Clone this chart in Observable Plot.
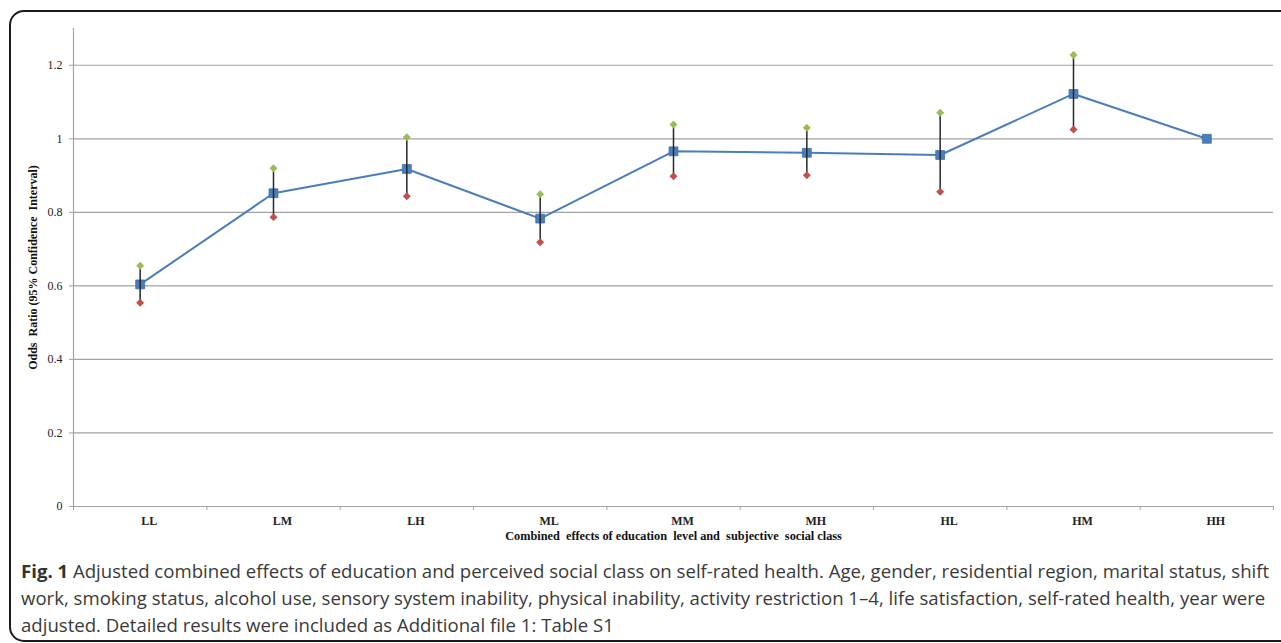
<!DOCTYPE html>
<html><head><meta charset="utf-8">
<script src="https://cdn.jsdelivr.net/npm/d3@7"></script>
<script src="https://cdn.jsdelivr.net/npm/@observablehq/plot@0.6"></script>
<style>
body{margin:0;background:#fff;width:1281px;height:643px;overflow:hidden;position:relative}
#frame{position:absolute;left:9px;top:10px;width:1300px;height:628px;border:2px solid #1c1c1c;border-radius:15px;}
#chart{position:absolute;left:0;top:0}
#caption{position:absolute;left:21px;top:557px;font-family:"Open Sans",sans-serif;font-size:18.6px;line-height:27px;color:#3a3a3a;white-space:nowrap}
#caption b{color:#333}
</style></head><body>
<div id="frame"></div>
<div id="chart"></div>
<div id="caption"></div>
<script>
const categories = ["LL","LM","LH","ML","MM","MH","HL","HM","HH"];
const oddsRatio  = [0.604, 0.852, 0.918, 0.783, 0.966, 0.962, 0.956, 1.122, 1.0];
const upperCI    = [0.655, 0.920, 1.004, 0.849, 1.039, 1.030, 1.071, 1.228, null];
const lowerCI    = [0.554, 0.787, 0.844, 0.719, 0.898, 0.901, 0.856, 1.025, null];
const yTicks = [0, 0.2, 0.4, 0.6, 0.8, 1, 1.2];
const yLabel = "Odds  Ratio (95% Confidence  Interval)";
const xLabel = "Combined  effects of education  level and  subjective  social class";
const captionBold = "Fig. 1";
const captionLines = [
  " Adjusted combined effects of education and perceived social class on self-rated health. Age, gender, residential region, marital status, shift",
  "work, smoking status, alcohol use, sensory system inability, physical inability, activity restriction 1\u20134, life satisfaction, self-rated health, year were",
  "adjusted. Detailed results were included as Additional file 1: Table S1"
];

const rows = categories.map((c, i) => ({cat: c, pos: i + 0.5, or: oddsRatio[i], lo: lowerCI[i], hi: upperCI[i]}));
const ci = rows.filter(d => d.lo != null);
const gray = "#a3a3a3";

const plot = Plot.plot({
  width: 1281, height: 550,
  marginLeft: 73, marginRight: 8, marginTop: 28, marginBottom: 44,
  style: {fontFamily: '"Liberation Serif", serif', fontSize: "12px", color: "#222", background: "transparent"},
  x: {type: "linear", domain: [0, categories.length], axis: null},
  y: {domain: [0, 1.3], axis: null},
  marks: [
    Plot.gridY(yTicks, {stroke: gray, strokeOpacity: 1, strokeWidth: 1.2}),
    Plot.ruleX([0], {stroke: gray, strokeWidth: 1.2}),
    Plot.ruleY([0], {stroke: gray, strokeWidth: 1.2}),
    Plot.axisY(yTicks, {tickSize: 4, tickPadding: 7, stroke: gray, fill: "#222", fontSize: 12, tickFormat: d => String(d), label: null}),
    Plot.axisX(d3.range(0, categories.length + 1), {tickSize: 4, stroke: gray, tickFormat: () => "", label: null}),
    Plot.axisX(rows.map(d => d.pos), {tickSize: 0, tickPadding: 10, dx: 9, fill: "#222", fontSize: 12, fontWeight: "bold", tickFormat: d => categories[Math.floor(d)], label: null}),
    Plot.text([yLabel], {frameAnchor: "left", dx: -40, rotate: -90, textAnchor: "middle", fontWeight: "bold", fill: "#111", fontSize: 12, lineAnchor: "middle"}),
    Plot.text([xLabel], {frameAnchor: "bottom", dy: 30, textAnchor: "middle", fontWeight: "bold", fill: "#111", fontSize: 12.3, lineAnchor: "middle"}),
    Plot.line(rows, {x: "pos", y: "or", stroke: "#4A7EBB", strokeWidth: 2}),
    Plot.dot(rows, {x: "pos", y: "or", symbol: "square", r: 5, fill: "#4A7EBB", stroke: "#3d6ea8", strokeWidth: 0.8}),
    Plot.ruleX(ci, {x: "pos", y1: "lo", y2: "hi", stroke: "#262626", strokeWidth: 1.5}),
    Plot.dot(ci, {x: "pos", y: "hi", symbol: "diamond2", r: 3.6, fill: "#9BBB59"}),
    Plot.dot(ci, {x: "pos", y: "lo", symbol: "diamond2", r: 3.6, fill: "#C0504D"})
  ]
});
plot.querySelectorAll("text").forEach(t => t.setAttribute("xml:space", "preserve"));
plot.style.whiteSpace = "pre";
document.getElementById("chart").appendChild(plot);

const cap = document.getElementById("caption");
captionLines.forEach((line, i) => {
  if (i === 0) {
    const b = document.createElement("b");
    b.textContent = captionBold;
    cap.appendChild(b);
  } else {
    cap.appendChild(document.createElement("br"));
  }
  cap.appendChild(document.createTextNode(line));
});
</script>
</body></html>
